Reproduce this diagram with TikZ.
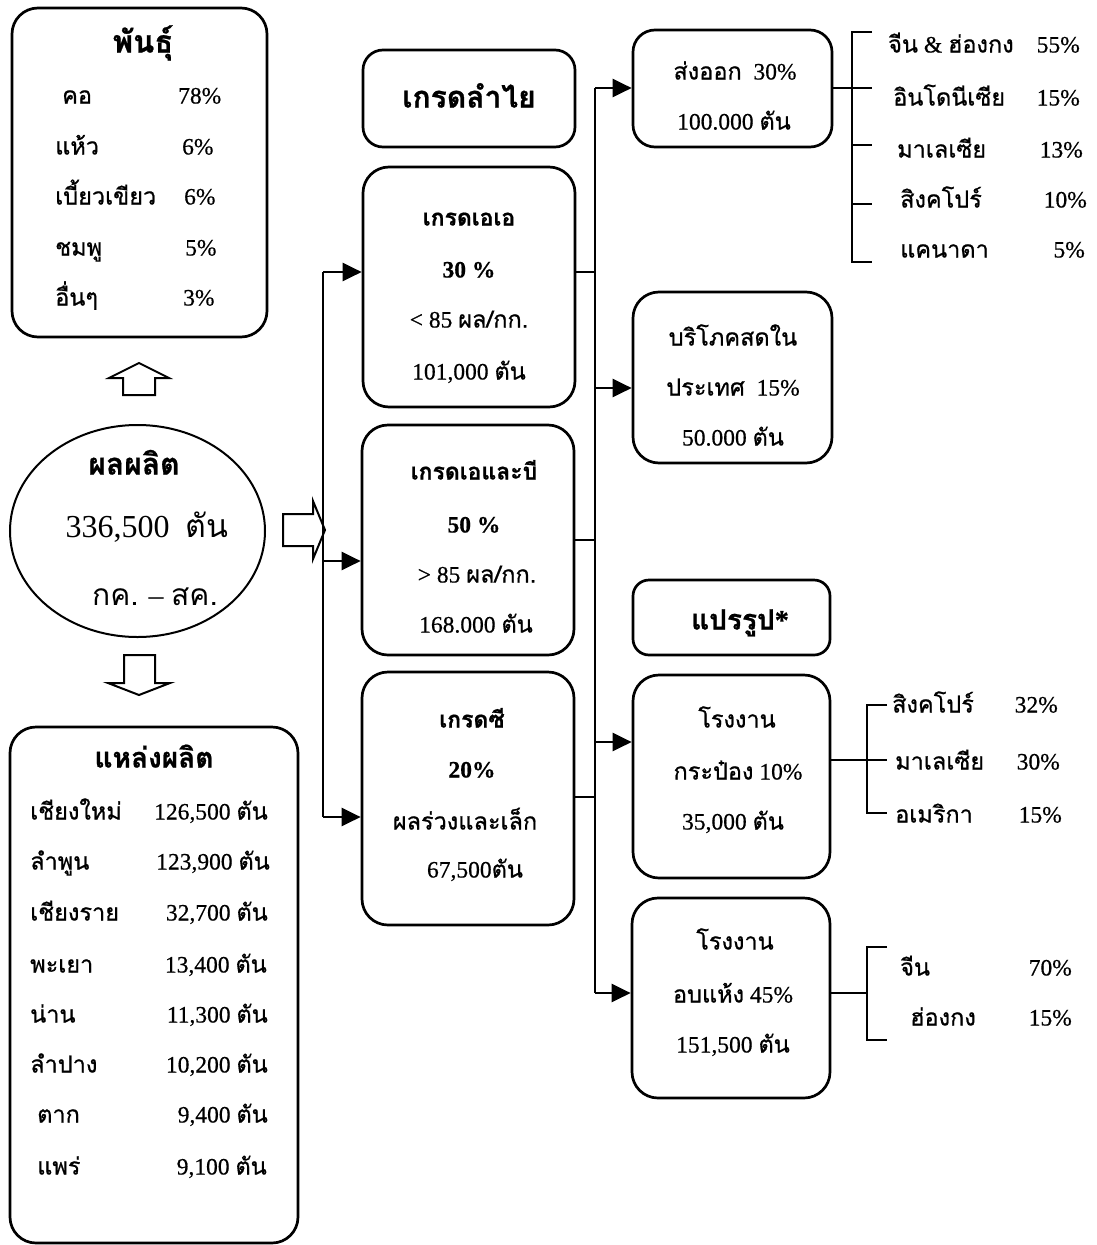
\documentclass[tikz,border=0pt]{standalone}
\usepackage{fontspec}
\setmainfont{Liberation Serif}[FakeBold=0.6]
\newfontfamily\thai[Script=Thai,FakeBold=0.8]{Loma}
\newfontfamily\serifthin{Liberation Serif}
\newfontfamily\thaithin[Script=Thai]{Loma}
\usetikzlibrary{arrows.meta,shapes.geometric}
\newcommand\T[1]{{\thai #1}}
\newcommand\Tt[1]{{\thaithin #1}}
\newcommand\fs[1]{\fontsize{#1}{#1}\selectfont}
\begin{document}
\begin{tikzpicture}[x=1pt,y=-1pt,
  box/.style={draw, line width=2.7pt, rounded corners=26pt, inner sep=0pt},
  conn/.style={line width=2.5pt},
  arr/.style={conn, -{Triangle[length=19pt,width=18pt]}},
  blk/.style={draw, line width=2pt, line join=miter},
  t/.style={inner sep=0pt, anchor=base, yshift=-7.5pt, font=\fs{23.5}},
  tl/.style={t, anchor=base west},
  tr/.style={t, anchor=base east},
  b/.style={font=\fs{#1}\bfseries},
]
\useasboundingbox (0,0) rectangle (1096,1245);

% ---------- left column ----------
\node[box, minimum width=255pt, minimum height=329pt] (pan) at (139.5,172.5) {};
\node[t, b=31] (panT) at (143,45) {\T{พันธุ์}};
\node[tl] (p1a) at (62,96) {\T{คอ}};          \node[tl] (p1b) at (178,96) {78\%};
\node[tl] (p2a) at (55,147) {\T{แห้ว}};        \node[tl] (p2b) at (182,147) {6\%};
\node[tl] (p3a) at (55,197) {\T{เบี้ยวเขียว}};   \node[tl] (p3b) at (184,197) {6\%};
\node[tl] (p4a) at (55,248) {\T{ชมพู}};        \node[tl] (p4b) at (185,248) {5\%};
\node[tl] (p5a) at (55,298) {\T{อื่นๆ}};        \node[tl] (p5b) at (183,298) {3\%};

\draw[blk] (123,395) -- (123,378) -- (109,378) -- (139,363) -- (169,378) -- (155,378) -- (155,395) -- cycle;

\node[draw, ellipse, line width=2pt, minimum width=255pt, minimum height=212pt, inner sep=0pt] (prod) at (137.5,531) {};
\node[t, b=30] (prodT) at (134,467) {\T{ผลผลิต}};
\node[t, font=\fs{32}\serifthin] (prodN) at (147,530) {336,500\ \ \Tt{ตัน}};
\node[t, font=\fs{30}\serifthin] (prodM) at (155,598) {\Tt{กค.} – \Tt{สค.}};

\draw[blk] (124,655) -- (155,655) -- (155,683) -- (170,683) -- (139,695) -- (108,683) -- (124,683) -- cycle;

\node[box, minimum width=288pt, minimum height=516pt] (src) at (154,985) {};
\node[t, b=28] (srcT) at (154,760) {\T{แหล่งผลิต}};
\node[tl] (s1a) at (30,812) {\T{เชียงใหม่}};  \node[tr] (s1b) at (268,812) {126,500 \T{ตัน}};
\node[tl] (s2a) at (30,862) {\T{ลำพูน}};     \node[tr] (s2b) at (270,862) {123,900 \T{ตัน}};
\node[tl] (s3a) at (30,913) {\T{เชียงราย}};   \node[tr] (s3b) at (268,913) {32,700 \T{ตัน}};
\node[tl] (s4a) at (30,965) {\T{พะเยา}};     \node[tr] (s4b) at (267,965) {13,400 \T{ตัน}};
\node[tl] (s5a) at (30,1015) {\T{น่าน}};      \node[tr] (s5b) at (268,1015) {11,300 \T{ตัน}};
\node[tl] (s6a) at (30,1065) {\T{ลำปาง}};    \node[tr] (s6b) at (268,1065) {10,200 \T{ตัน}};
\node[tl] (s7a) at (37,1115) {\T{ตาก}};      \node[tr] (s7b) at (268,1115) {9,400 \T{ตัน}};
\node[tl] (s8a) at (37,1167) {\T{แพร่}};      \node[tr] (s8b) at (267,1167) {9,100 \T{ตัน}};

\draw[blk] (283,514) -- (313,514) -- (313,501) -- (325,530) -- (313,559) -- (313,546) -- (283,546) -- cycle;

% ---------- middle column ----------
\node[box, rounded corners=20pt, minimum width=212pt, minimum height=97pt] (grade) at (469,98.5) {};
\node[t, b=30] (gradeT) at (469,100) {\T{เกรดลำไย}};

\node[box, minimum width=212pt, minimum height=240pt] (aa) at (469,287) {};
\node[t, b=23] (aa1) at (469,218) {\T{เกรดเอเอ}};
\node[t, b=23.5] (aa2) at (469,270) {30 \%};
\node[t] (aa3) at (469,320) {< 85 \T{ผล/กก.}};
\node[t] (aa4) at (469,372) {101,000 \T{ตัน}};

\node[box, minimum width=212pt, minimum height=230pt] (ab) at (468,540) {};
\node[t, b=23] (ab1) at (474,472) {\T{เกรดเอและบี}};
\node[t, b=23.5] (ab2) at (474,525) {50 \%};
\node[t] (ab3) at (477,575) {> 85 \T{ผล/กก.}};
\node[t] (ab4) at (476,625) {168.000 \T{ตัน}};

\node[box, minimum width=212pt, minimum height=253pt] (gc) at (468,798.5) {};
\node[t, b=23] (gc1) at (472,720) {\T{เกรดซี}};
\node[t, b=23.5] (gc2) at (472,770) {20\%};
\node[t] (gc3) at (465,822) {\T{ผลร่วงและเล็ก}};
\node[t] (gc4) at (475,870) {67,500\T{ตัน}};

% connectors left of middle column
\coordinate (j1) at (323,272);
\coordinate (j2) at (323,561);
\coordinate (j3) at (323,817);
\draw[conn] (j1) -- (j3);
\draw[arr] (j1) -- (j1 -| aa.west);
\draw[arr] (j2) -- (j2 -| ab.west);
\draw[arr] (j3) -- (j3 -| gc.west);

% ---------- right column ----------
\node[box, rounded corners=22pt, minimum width=199pt, minimum height=117pt] (exp) at (732.5,88.5) {};
\node[t] (exp1) at (735,72) {\T{ส่งออก}\ \ 30\%};
\node[t] (exp2) at (734,122) {100.000 \T{ตัน}};

\node[box, minimum width=199pt, minimum height=171pt] (dom) at (732.5,377.5) {};
\node[t] (dom1) at (733,338) {\T{บริโภคสดใน}};
\node[t] (dom2) at (733,388) {\T{ประเทศ}\ \ 15\%};
\node[t] (dom3) at (733,438) {50.000 \T{ตัน}};

\node[box, rounded corners=16pt, minimum width=197pt, minimum height=75pt] (proc) at (731.5,617.5) {};
\node[t, b=28] (procT) at (740,622) {\T{แปรรูป}*};

\node[box, minimum width=197pt, minimum height=203pt] (can) at (731.5,776.5) {};
\node[t] (can1) at (737,720) {\T{โรงงาน}};
\node[t] (can2) at (738,772) {\T{กระป๋อง} 10\%};
\node[t] (can3) at (733,822) {35,000 \T{ตัน}};

\node[box, minimum width=198pt, minimum height=200pt] (dry) at (731,998) {};
\node[t] (dry1) at (735,942) {\T{โรงงาน}};
\node[t] (dry2) at (733,995) {\T{อบแห้ง} 45\%};
\node[t] (dry3) at (733,1045) {151,500 \T{ตัน}};

% connectors between middle and right column
\coordinate (k0) at (595,88);
\coordinate (k1) at (595,272);
\coordinate (k2) at (595,388);
\coordinate (k3) at (595,540);
\coordinate (k4) at (595,742);
\coordinate (k5) at (595,797);
\coordinate (k6) at (595,993);
\draw[conn] (k0) -- (k6);
\draw[conn] (k1 -| aa.east) -- (k1);
\draw[conn] (k3 -| ab.east) -- (k3);
\draw[conn] (k5 -| gc.east) -- (k5);
\draw[arr] (k0) -- (k0 -| exp.west);
\draw[arr] (k2) -- (k2 -| dom.west);
\draw[arr] (k4) -- (k4 -| can.west);
\draw[arr] (k6) -- (k6 -| dry.west);

% ---------- export destinations ----------
\coordinate (e0) at (852,32);
\coordinate (e1) at (872,88);
\coordinate (e4) at (852,262);
\draw[conn] (e0 -| e1) -- (e0) -- (e4) -- (e4 -| e1);
\draw[conn] (e1 -| exp.east) -- (e1);
\draw[conn] (852,145) -- (872,145);
\draw[conn] (852,204) -- (872,204);
\node[tl] (x1a) at (888,45) {\T{จีน} \& \T{ฮ่องกง}};  \node[tr] (x1b) at (1080,45) {55\%};
\node[tl] (x2a) at (893,98) {\T{อินโดนีเซีย}};        \node[tr] (x2b) at (1080,98) {15\%};
\node[tl] (x3a) at (897,150) {\T{มาเลเซีย}};          \node[tr] (x3b) at (1083,150) {13\%};
\node[tl] (x4a) at (900,200) {\T{สิงคโปร์}};          \node[tr] (x4b) at (1087,200) {10\%};
\node[tl] (x5a) at (900,250) {\T{แคนาดา}};          \node[tr] (x5b) at (1085,250) {5\%};

% ---------- canned destinations ----------
\coordinate (c0) at (867,705);
\coordinate (c1) at (887,760);
\coordinate (c2) at (867,813);
\draw[conn] (c0 -| c1) -- (c0) -- (c2) -- (c2 -| c1);
\draw[conn] (c1 -| can.east) -- (c1);
\node[tl] (y1a) at (892,705) {\T{สิงคโปร์}};  \node[tr] (y1b) at (1058,705) {32\%};
\node[tl] (y2a) at (895,762) {\T{มาเลเซีย}};  \node[tr] (y2b) at (1060,762) {30\%};
\node[tl] (y3a) at (895,815) {\T{อเมริกา}};   \node[tr] (y3b) at (1062,815) {15\%};

% ---------- dried destinations ----------
\coordinate (d0) at (867,947);
\coordinate (d1) at (887,993);
\coordinate (d2) at (867,1040);
\draw[conn] (d0 -| d1) -- (d0) -- (d2) -- (d2 -| d1);
\draw[conn] (d1 -| dry.east) -- (d0 |- d1);
\node[tl] (z1a) at (900,968) {\T{จีน}};      \node[tr] (z1b) at (1072,968) {70\%};
\node[tl] (z2a) at (910,1018) {\T{ฮ่องกง}};  \node[tr] (z2b) at (1072,1018) {15\%};
\end{tikzpicture}
\end{document}
